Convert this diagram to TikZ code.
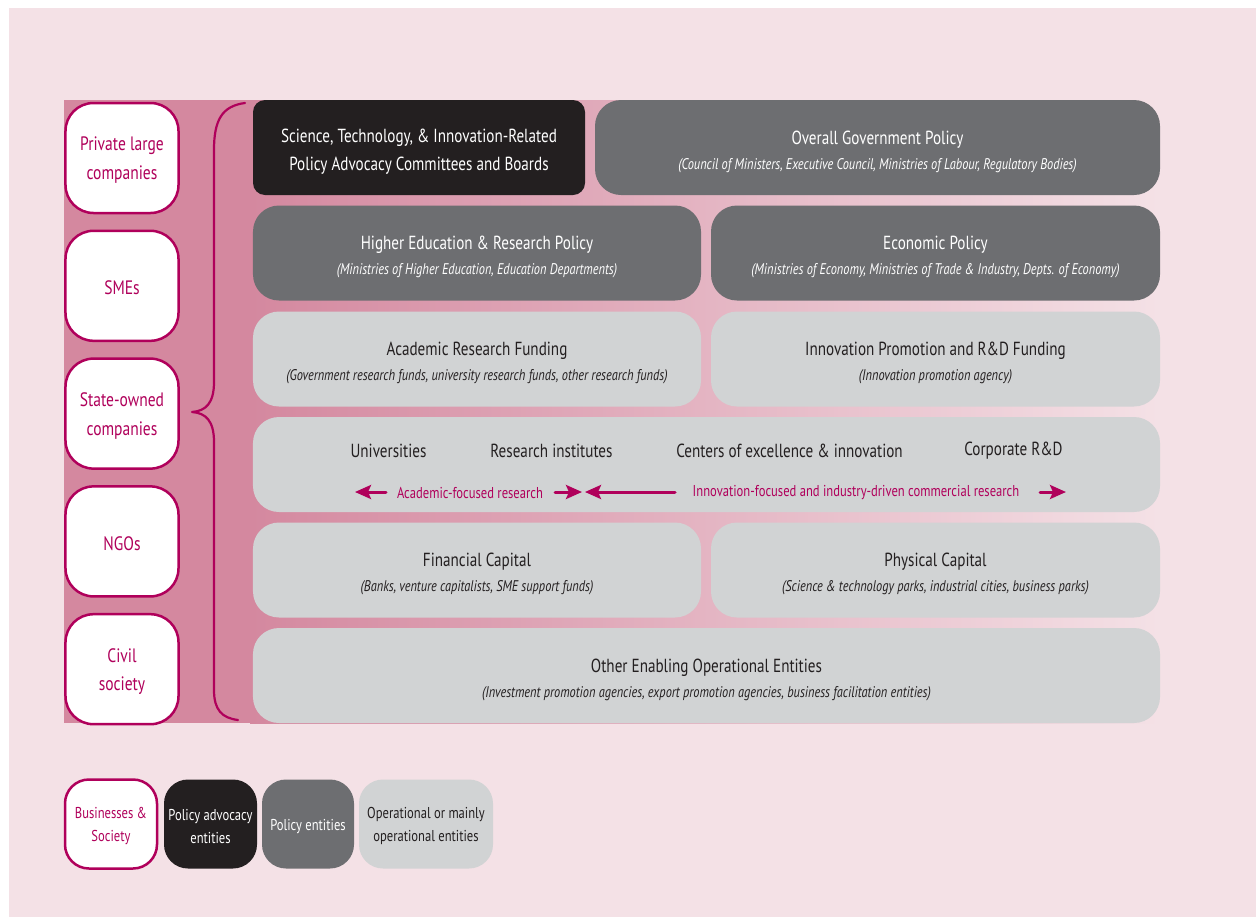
\documentclass[tikz,border=0pt]{standalone}
\usepackage{fontspec}
\setmainfont{PT Sans}[FakeStretch=0.80]
\usetikzlibrary{arrows.meta}
\definecolor{bgpink}{HTML}{F4E1E6}
\definecolor{deeppink}{HTML}{D4889F}
\definecolor{berry}{HTML}{B0005B}
\definecolor{advblack}{HTML}{231F20}
\definecolor{polgray}{HTML}{6D6E71}
\definecolor{opgray}{HTML}{D1D3D4}
\newcommand\subtxt[1]{{\fontsize{15.5}{18}\selectfont\itshape #1}}
\newcommand\topstrut[1][21.5bp]{\rule{0pt}{#1}}
\tikzset{
  box/.style={rounded corners=26bp, minimum height=95bp, inner sep=0pt, align=center, font=\fontsize{19}{25}\selectfont},
  advbox/.style={box, fill=advblack, text=white, rounded corners=12bp, font=\fontsize{19}{28}\selectfont},
  polbox/.style={box, fill=polgray, text=white},
  opbox/.style={box, fill=opgray, text=advblack},
  sidebox/.style={draw=berry, line width=2.5bp, fill=white, text=berry, rounded corners=28bp, minimum width=113bp, minimum height=110bp, inner sep=0pt, align=center, font=\fontsize{19.5}{29}\selectfont},
  legbox/.style={rounded corners=24bp, minimum height=89bp, inner sep=0pt, align=center, font=\fontsize{15.8}{23}\selectfont},
  flow/.style={berry, line width=3bp, -{Stealth[length=16bp, width=14bp, inset=3bp]}},
  flowlbl/.style={text=berry, font=\fontsize{15.8}{18}\selectfont, inner sep=0pt},
  unitlbl/.style={text=advblack, font=\fontsize{19}{22}\selectfont, inner sep=0pt}
}
\begin{document}
\begin{tikzpicture}[x=1bp, y=-1bp, line join=round, line cap=round]
  \useasboundingbox (0,0) rectangle (1256,917);
  \fill[bgpink] (9,8) rectangle (1256,917);
  \fill[deeppink] (64,100) rectangle (250,723);
  \shade[left color=deeppink, right color=bgpink] (250,100) rectangle (1160,723);
  % businesses and society
  \foreach \t [count=\i] in {{Private large\\companies}, SMEs, {State-owned\\companies}, NGOs, {Civil\\society}}
    \node[sidebox] (side\i) at (122,{158+127.8*(\i-1)}) {\topstrut[18.5bp]\t};
  \draw[berry, line width=2.2bp] (245,103) .. controls (222,106) and (214,120) .. (214,150) -- (214,382)
    .. controls (214,403) and (206,411) .. (192,412) .. controls (206,413) and (214,421) .. (214,442)
    -- (214,690) .. controls (214,710) and (222,718) .. (238,720);
  % policy rows
  \node[advbox, minimum width=332bp] (advocacy) at (419,147.5) {\topstrut Science, Technology, \& Innovation-Related\\Policy Advocacy Committees and Boards};
  \node[polbox, minimum width=565bp] (govpolicy) at (877.5,147.5) {\topstrut Overall Government Policy\\\subtxt{(Council of Ministers, Executive Council, Ministries of Labour, Regulatory Bodies)}};
  \node[polbox, minimum width=448bp] (edupolicy) at (477,253) {\topstrut Higher Education \& Research Policy\\\subtxt{(Ministries of Higher Education, Education Departments)}};
  \node[polbox, minimum width=449bp] (ecopolicy) at (935.5,253) {\topstrut Economic Policy\\\subtxt{(Ministries of Economy, Ministries of Trade \& Industry, Depts. of Economy)}};
  % operational rows
  \node[opbox, minimum width=448bp] (acadfund) at (477,359) {\topstrut Academic Research Funding\\\subtxt{(Government research funds, university research funds, other research funds)}};
  \node[opbox, minimum width=449bp] (innofund) at (935.5,359) {\topstrut Innovation Promotion and R\&D Funding\\\subtxt{(Innovation promotion agency)}};
  \node[opbox, minimum width=907bp] (research) at (706.5,464.5) {};
  \node[opbox, minimum width=448bp] (fincap) at (477,570) {\topstrut Financial Capital\\\subtxt{(Banks, venture capitalists, SME support funds)}};
  \node[opbox, minimum width=449bp] (physcap) at (935.5,570) {\topstrut Physical Capital\\\subtxt{(Science \& technology parks, industrial cities, business parks)}};
  \node[opbox, minimum width=907bp] (otherops) at (706.5,675.5) {\topstrut Other Enabling Operational Entities\\\subtxt{(Investment promotion agencies, export promotion agencies, business facilitation entities)}};
  % research performers
  \node[unitlbl] (univ) at (388.5,451) {Universities};
  \node[unitlbl] (resinst) at (551.5,451) {Research institutes};
  \node[unitlbl] (coe) at (789.5,451) {Centers of excellence \& innovation};
  \node[unitlbl] (corprd) at (1013.5,451) {Corporate R\&D};
  \node[flowlbl] (acadlbl) at (470,493) {Academic-focused research};
  \node[flowlbl] (innolbl) at (856,493) {Innovation-focused and industry-driven commercial research};
  \coordinate (acadtail) at (386,492); \coordinate (acadtip) at (355,492);
  \coordinate (midtail) at (555,492); \coordinate (midtip) at (582,492);
  \coordinate (innotail) at (675,492); \coordinate (innotip) at (585,492);
  \coordinate (endtail) at (1040,492); \coordinate (endtip) at (1066,492);
  \draw[flow] (acadtail) -- (acadtip);
  \draw[flow] (midtail) -- (midtip);
  \draw[flow] (innotail) -- (innotip);
  \draw[flow] (endtail) -- (endtip);
  % legend
  \node[legbox, draw=berry, line width=2.5bp, fill=white, text=berry, minimum width=92bp] (legbiz) at (111,824) {\topstrut[16bp]Businesses \&\\Society};
  \node[legbox, fill=advblack, text=white, minimum width=93bp] (legadv) at (210.5,824) {\topstrut[16bp]Policy advocacy\\entities};
  \node[legbox, fill=polgray, text=white, minimum width=92bp] (legpol) at (308,824) {\topstrut[16bp]Policy entities};
  \node[legbox, fill=opgray, text=advblack, minimum width=134bp] (legop) at (426,824) {\topstrut[16bp]Operational or mainly\\operational entities};
\end{tikzpicture}
\end{document}
